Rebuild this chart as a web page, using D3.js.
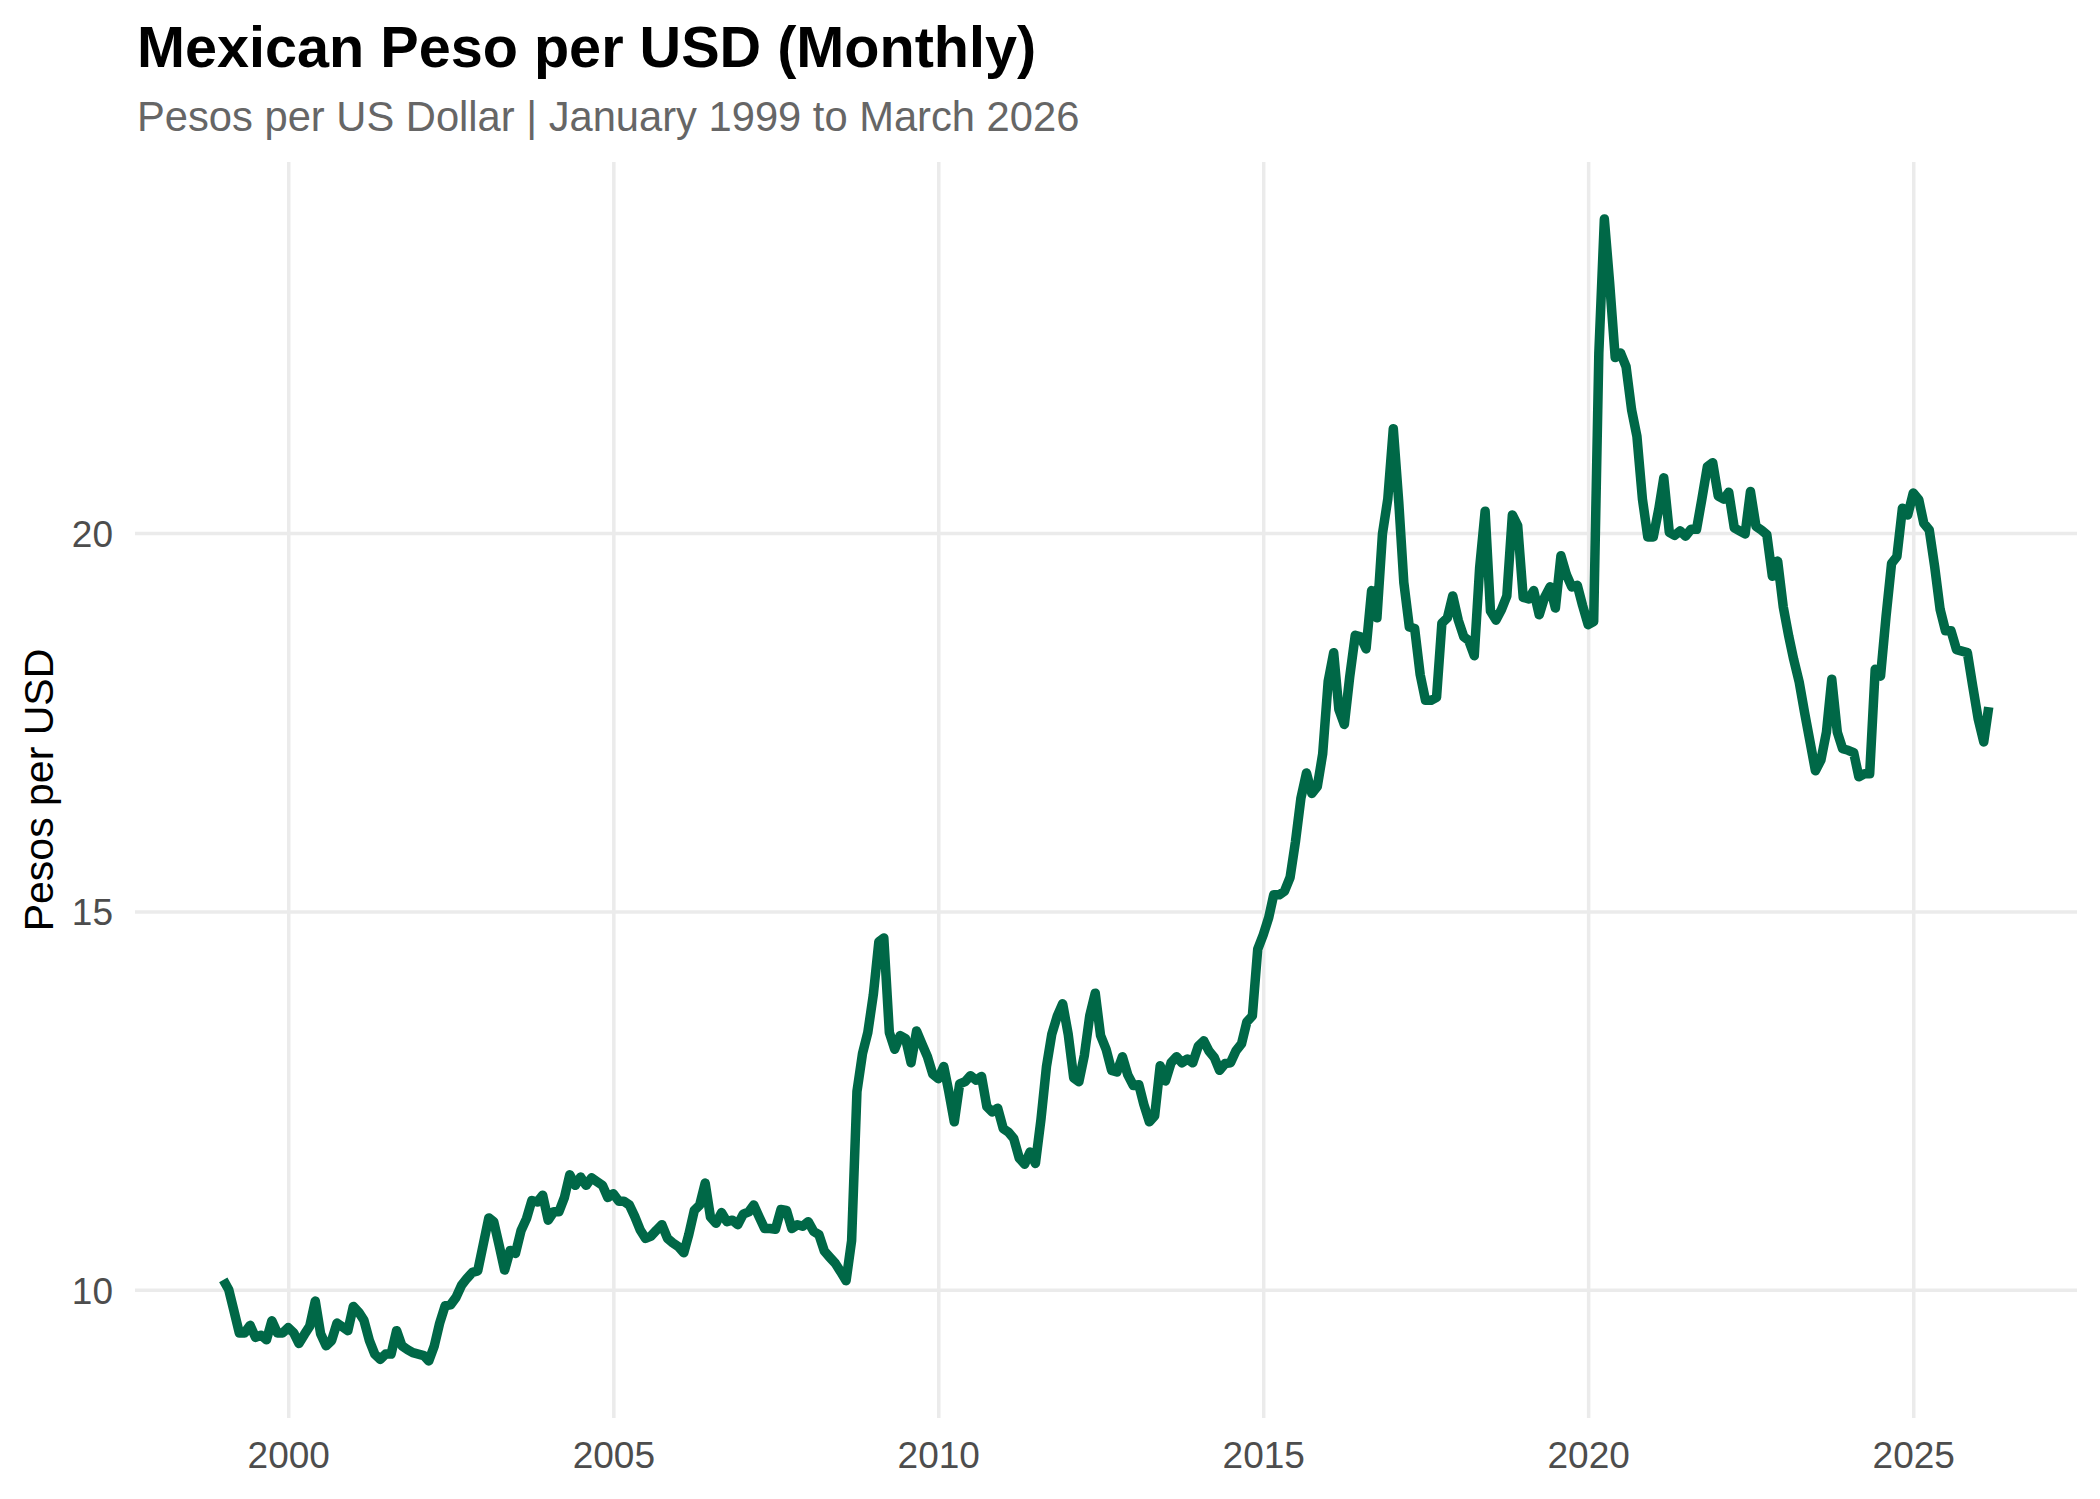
<!DOCTYPE html>
<html>
<head>
<meta charset="utf-8">
<script src="https://cdn.jsdelivr.net/npm/d3@7"></script>
<style>
  body { margin: 0; background: #fff; }
  text { font-family: "Liberation Sans", Arial, sans-serif; }
</style>
</head>
<body>
<svg class="chart"></svg>
<script>
// Monthly averages, pesos per US dollar, Jan 1999 .. Mar 2026
var startYear = 1999;
var rates = [
  // 1999
  10.13, 10.00, 9.73, 9.43, 9.43, 9.53, 9.37, 9.40, 9.34, 9.59, 9.43, 9.43,
  // 2000
  9.50, 9.43, 9.29, 9.41, 9.52, 9.85, 9.42, 9.26, 9.33, 9.56, 9.51, 9.46,
  // 2001
  9.78, 9.70, 9.60, 9.33, 9.15, 9.08, 9.15, 9.15, 9.46, 9.26, 9.21, 9.17,
  // 2002
  9.15, 9.13, 9.06, 9.26, 9.56, 9.79, 9.80, 9.90, 10.06, 10.15, 10.23, 10.25,
  // 2003
  10.60, 10.95, 10.90, 10.58, 10.26, 10.52, 10.48, 10.78, 10.94, 11.18, 11.16, 11.25,
  // 2004
  10.92, 11.03, 11.03, 11.22, 11.52, 11.38, 11.49, 11.38, 11.48, 11.43, 11.38, 11.22,
  // 2005
  11.27, 11.17, 11.17, 11.12, 10.97, 10.79, 10.68, 10.71, 10.79, 10.86, 10.68, 10.62,
  // 2006
  10.57, 10.49, 10.73, 11.05, 11.12, 11.41, 10.96, 10.88, 11.02, 10.90, 10.92, 10.86,
  // 2007
  11.00, 11.03, 11.12, 10.96, 10.81, 10.81, 10.80, 11.06, 11.05, 10.81, 10.86, 10.84,
  // 2008
  10.90, 10.77, 10.73, 10.51, 10.43, 10.35, 10.24, 10.12, 10.65, 12.62, 13.12, 13.40,
  // 2009
  13.90, 14.60, 14.65, 13.40, 13.18, 13.36, 13.32, 13.00, 13.42, 13.25, 13.08, 12.85,
  // 2010
  12.79, 12.95, 12.62, 12.22, 12.72, 12.75, 12.83, 12.77, 12.82, 12.42, 12.35, 12.40,
  // 2011
  12.13, 12.08, 12.00, 11.74, 11.66, 11.82, 11.67, 12.25, 12.95, 13.38, 13.62, 13.78,
  // 2012
  13.38, 12.80, 12.75, 13.10, 13.62, 13.92, 13.36, 13.18, 12.90, 12.88, 13.08, 12.84,
  // 2013
  12.70, 12.71, 12.45, 12.22, 12.30, 12.96, 12.76, 13.00, 13.08, 13.00, 13.05, 13.00,
  // 2014
  13.22, 13.29, 13.16, 13.07, 12.90, 12.99, 13.00, 13.16, 13.25, 13.54, 13.62, 14.50,
  // 2015
  14.69, 14.92, 15.22, 15.22, 15.27, 15.45, 15.92, 16.50, 16.83, 16.56, 16.65, 17.08,
  // 2016
  18.04, 18.42, 17.67, 17.47, 18.10, 18.65, 18.63, 18.47, 19.24, 18.88, 19.99, 20.45,
  // 2017
  21.38, 20.40, 19.35, 18.76, 18.74, 18.13, 17.79, 17.79, 17.83, 18.81, 18.88, 19.17,
  // 2018
  18.85, 18.63, 18.58, 18.38, 19.54, 20.29, 18.97, 18.85, 18.99, 19.17, 20.24, 20.10,
  // 2019
  19.15, 19.13, 19.24, 18.92, 19.15, 19.29, 19.01, 19.70, 19.45, 19.29, 19.31, 19.04,
  // 2020
  18.79, 18.83, 22.38, 24.15, 23.30, 22.32, 22.38, 22.20, 21.63, 21.28, 20.45, 19.95,
  // 2021
  19.95, 20.32, 20.73, 20.01, 19.97, 20.03, 19.96, 20.05, 20.05, 20.45, 20.88, 20.93,
  // 2022
  20.49, 20.45, 20.54, 20.07, 20.03, 19.99, 20.55, 20.09, 20.04, 19.98, 19.43, 19.63,
  // 2023
  19.03, 18.64, 18.33, 18.03, 17.63, 17.24, 16.86, 17.00, 17.37, 18.07, 17.37, 17.15,
  // 2024
  17.13, 17.10, 16.78, 16.82, 16.82, 18.20, 18.11, 18.90, 19.60, 19.69, 20.33, 20.24,
  // 2025
  20.53, 20.44, 20.13, 20.04, 19.56, 18.99, 18.71, 18.71, 18.46, 18.44, 18.42, 17.98,
  // 2026
  17.54, 17.24, 17.70
];
var xTickYears = [2000, 2005, 2010, 2015, 2020, 2025];
var yTicks = [10, 15, 20];

var titleText = 'Mexican Peso per USD (Monthly)';
var subtitleText = 'Pesos per US Dollar | January 1999 to March 2026';
var yTitleText = 'Pesos per USD';

var data = rates.map(function(v, i) {
  return {date: new Date(startYear, i, 1), value: v};
});

var W = 2100, H = 1499;
var margin = {top: 162, right: 23, bottom: 81, left: 135};
var width = W - margin.left - margin.right,
    height = H - margin.top - margin.bottom;

// ggplot-like 5% expansion on both axes
var xExt = d3.extent(data, function(d) { return d.date.getTime(); });
var xPad = (xExt[1] - xExt[0]) * 0.05;
var x = d3.scaleTime()
  .domain([new Date(xExt[0] - xPad), new Date(xExt[1] + xPad)])
  .range([0, width]);

var yExt = d3.extent(data, function(d) { return d.value; });
var yPad = (yExt[1] - yExt[0]) * 0.05;
var y = d3.scaleLinear()
  .domain([yExt[0] - yPad, yExt[1] + yPad])
  .range([height, 0]);

var svg = d3.select('.chart')
  .attr('width', W)
  .attr('height', H)
  .attr('viewBox', '0 0 ' + W + ' ' + H);

svg.append('rect').attr('width', W).attr('height', H).attr('fill', '#fff');

var chart = svg.append('g')
  .attr('transform', 'translate(' + margin.left + ',' + margin.top + ')');

var xTicks = xTickYears.map(function(yr) { return new Date(yr, 0, 1); });

// Grid lines via axes
var xGrid = d3.axisBottom(x)
  .tickValues(xTicks)
  .tickSize(-height)
  .tickFormat('');
chart.append('g')
  .attr('class', 'x grid')
  .attr('transform', 'translate(0,' + height + ')')
  .call(xGrid)
  .call(function(g) { g.select('.domain').remove(); })
  .selectAll('line')
  .attr('stroke', '#ebebeb')
  .attr('stroke-width', 3.5);

var yGrid = d3.axisLeft(y)
  .tickValues(yTicks)
  .tickSize(-width)
  .tickFormat('');
chart.append('g')
  .attr('class', 'y grid')
  .call(yGrid)
  .call(function(g) { g.select('.domain').remove(); })
  .selectAll('line')
  .attr('stroke', '#ebebeb')
  .attr('stroke-width', 3.5);

// Tick labels
var xAxis = d3.axisBottom(x)
  .tickValues(xTicks)
  .tickSize(0)
  .tickPadding(0)
  .tickFormat(d3.timeFormat('%Y'));
chart.append('g')
  .attr('class', 'x axis')
  .attr('transform', 'translate(0,' + height + ')')
  .call(xAxis)
  .call(function(g) { g.select('.domain').remove(); })
  .selectAll('text')
  .attr('y', 50)
  .attr('dy', 0)
  .attr('fill', '#4d4d4d')
  .style('font-size', '37px');

var yAxis = d3.axisLeft(y)
  .tickValues(yTicks)
  .tickSize(0)
  .tickPadding(22);
chart.append('g')
  .attr('class', 'y axis')
  .call(yAxis)
  .call(function(g) { g.select('.domain').remove(); })
  .selectAll('text')
  .attr('dy', '0.36em')
  .attr('fill', '#4d4d4d')
  .style('font-size', '37px');

// The series
var line = d3.line()
  .x(function(d) { return x(d.date); })
  .y(function(d) { return y(d.value); });

chart.append('path')
  .datum(data)
  .attr('fill', 'none')
  .attr('stroke', '#006847')
  .attr('stroke-width', 9.5)
  .attr('stroke-linejoin', 'round')
  .attr('stroke-linecap', 'butt')
  .attr('d', line);

// Titles
svg.append('text')
  .attr('x', 137)
  .attr('y', 67)
  .attr('fill', '#000')
  .style('font-size', '57.6px')
  .style('font-weight', 'bold')
  .text(titleText);

svg.append('text')
  .attr('x', 137)
  .attr('y', 131)
  .attr('fill', '#666666')
  .style('font-size', '41.7px')
  .text(subtitleText);

svg.append('text')
  .attr('transform', 'translate(53,' + (margin.top + height / 2) + ') rotate(-90)')
  .attr('text-anchor', 'middle')
  .attr('fill', '#000')
  .style('font-size', '41px')
  .text(yTitleText);
</script>
</body>
</html>
